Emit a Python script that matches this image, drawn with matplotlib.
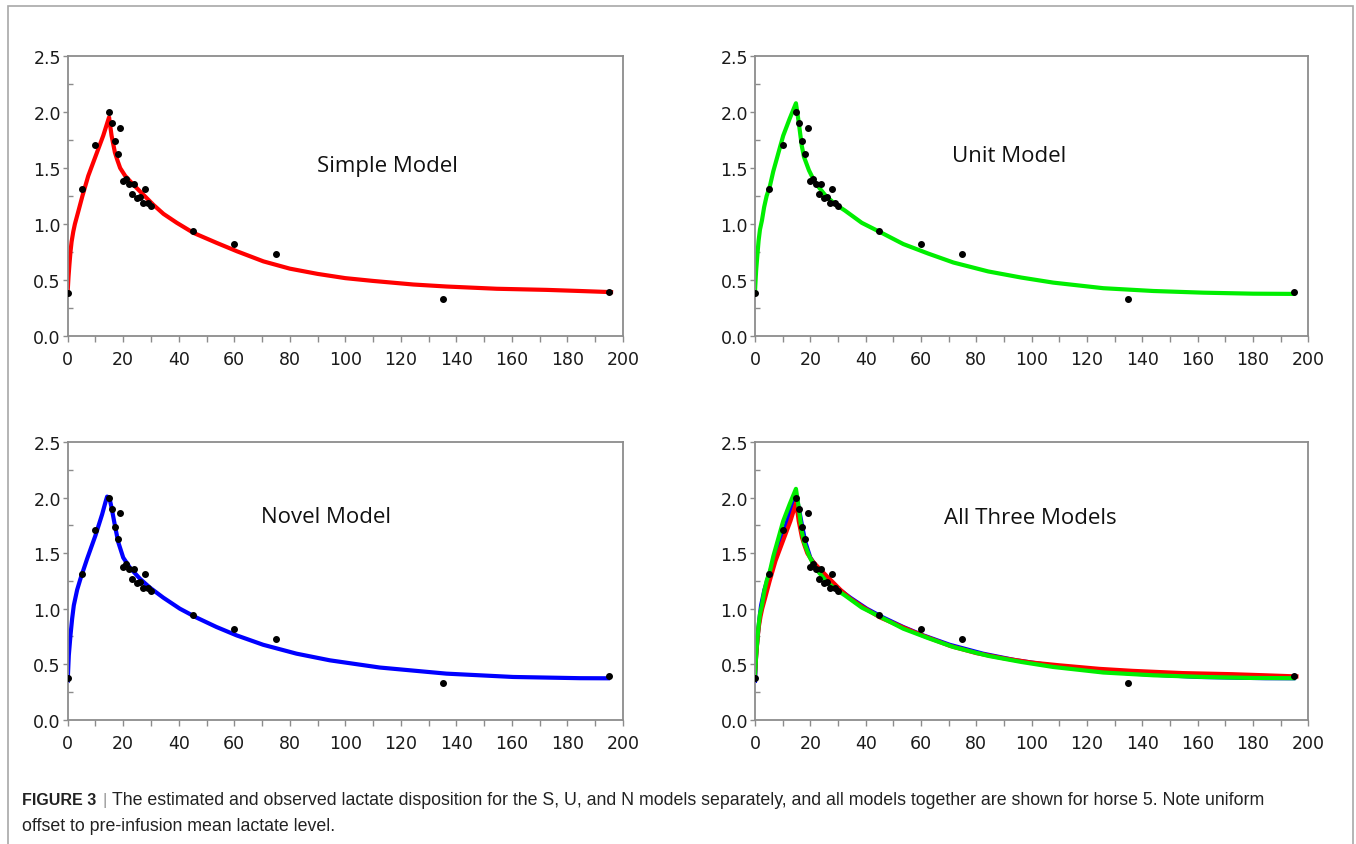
import matplotlib
matplotlib.use("Agg")
import matplotlib.pyplot as plt
from matplotlib.patches import Rectangle
from matplotlib.ticker import MultipleLocator, FormatStrFormatter

# observed lactate (horse 5)
obs_t = [0, 5, 10, 15, 16, 17, 18, 19, 20, 21, 22, 23, 24, 25, 26, 27, 28, 29, 30,
         45, 60, 75, 135, 195]
obs_y = [0.38, 1.31, 1.71, 2.00, 1.90, 1.74, 1.63, 1.86, 1.38, 1.40, 1.36, 1.27, 1.36,
         1.23, 1.24, 1.19, 1.31, 1.19, 1.16, 0.94, 0.82, 0.73, 0.33, 0.39]

# simple model (red)
simple_t = [0, 0.3, 0.6, 1.0, 1.4, 2.0, 2.6, 3.8, 5.3, 7.4, 10.4, 12.8, 14.9, 15.8,
            17.0, 17.9, 18.9, 20.7, 23.7, 27.3, 30.9, 34.5, 39.3, 45.3, 53.7, 61,
            70.5, 80, 90, 100, 110, 124.5, 136.5, 154.5, 172.5, 184.5, 195.7]
simple_y = [0.40, 0.53, 0.63, 0.75, 0.84, 0.93, 1.00, 1.11, 1.25, 1.43, 1.63, 1.79,
            1.955, 1.79, 1.64, 1.57, 1.50, 1.43, 1.35, 1.26, 1.17, 1.09, 1.01, 0.92,
            0.83, 0.755, 0.665, 0.60, 0.553, 0.515, 0.49, 0.458, 0.44, 0.42, 0.41,
            0.40, 0.39]

# unit model (green)
unit_t = [0, 0.4, 0.85, 1.3, 1.8, 2.5, 3.3, 4.2, 5.4, 6.6, 8.4, 10.2, 12.5, 14.8,
          15.8, 16.9, 17.7, 19.5, 21.7, 25.3, 28.8, 32.5, 38.6, 45.8, 53.6, 62.6,
          71.7, 84.3, 96.3, 107.8, 125.9, 144, 162, 180, 194.6]
unit_y = [0.40, 0.58, 0.72, 0.85, 0.95, 1.03, 1.15, 1.25, 1.34, 1.47, 1.63, 1.79,
          1.94, 2.08, 1.91, 1.70, 1.60, 1.48, 1.37, 1.26, 1.18, 1.12, 1.01, 0.92,
          0.82, 0.735, 0.655, 0.575, 0.52, 0.475, 0.425, 0.40, 0.385, 0.376, 0.374]

# novel model (blue)
novel_t = [0, 0.4, 1.0, 1.6, 2.2, 3.4, 4.6, 7.0, 10.0, 12.4, 13.6, 14.2, 15.0, 15.8,
           17.0, 18.2, 20.0, 22.4, 26.0, 29.6, 34.4, 40.4, 46.4, 53.6, 60.8, 70.4,
           82.4, 94.4, 112.4, 136.4, 160.4, 184.4, 194.6]
novel_y = [0.35, 0.58, 0.76, 0.91, 1.03, 1.17, 1.27, 1.45, 1.66, 1.85, 1.96, 2.01,
           2.00, 1.91, 1.75, 1.60, 1.46, 1.37, 1.27, 1.19, 1.10, 1.00, 0.92, 0.835,
           0.76, 0.675, 0.595, 0.535, 0.47, 0.415, 0.385, 0.374, 0.373]

titles = ["Simple Model", "Unit Model", "Novel Model", "All Three Models"]
title_pos = [(115, 1.52), (92, 1.61), (93, 1.83), (99.5, 1.82)]

RED = "#ff0000"
GREEN = "#00ee00"
BLUE = "#0000ff"
GRAY = "#8c8c8c"

W, H = 1356, 845
fig = plt.figure(figsize=(W / 100, H / 100), dpi=100)

# outer frame
fig.patches.append(Rectangle((8 / W, -0.01), 1345 / W, 1 - 6.5 / H + 0.01,
                             transform=fig.transFigure, fill=False,
                             edgecolor="#a8a8a8", linewidth=1.2))

boxes = [
    (67.7, 57.3, 555.3, 279.4),
    (755.0, 57.3, 553.3, 279.4),
    (67.7, 443.2, 555.3, 277.5),
    (755.0, 443.2, 553.3, 277.5),
]

axes = []
for (x0, y0, w, h) in boxes:
    ax = fig.add_axes([x0 / W, 1 - (y0 + h) / H, w / W, h / H])
    ax.set_xlim(0, 200)
    ax.set_ylim(0, 2.5)
    ax.xaxis.set_major_locator(MultipleLocator(20))
    ax.xaxis.set_minor_locator(MultipleLocator(10))
    ax.yaxis.set_major_locator(MultipleLocator(0.5))
    ax.yaxis.set_minor_locator(MultipleLocator(0.25))
    ax.yaxis.set_major_formatter(FormatStrFormatter("%.1f"))
    for s in ax.spines.values():
        s.set_color(GRAY)
        s.set_linewidth(1.3)
    ax.tick_params(axis="x", which="both", direction="out", length=4, width=1,
                   color=GRAY, labelsize=12.5, pad=6, labelcolor="#1a1a1a")
    ax.tick_params(axis="y", which="major", direction="out", length=3.5, width=1,
                   color=GRAY, labelsize=12.5, pad=1.5, labelcolor="#1a1a1a")
    ax.tick_params(axis="y", which="minor", direction="in", length=3.5, width=1,
                   color=GRAY)
    axes.append(ax)

lw = 3.0
axes[0].plot(simple_t, simple_y, color=RED, lw=lw, solid_joinstyle="round")
axes[1].plot(unit_t, unit_y, color=GREEN, lw=lw, solid_joinstyle="round")
axes[2].plot(novel_t, novel_y, color=BLUE, lw=lw, solid_joinstyle="round")
axes[3].plot(novel_t, novel_y, color=BLUE, lw=lw, solid_joinstyle="round")
axes[3].plot(simple_t, simple_y, color=RED, lw=lw, solid_joinstyle="round")
axes[3].plot(unit_t, unit_y, color=GREEN, lw=lw, solid_joinstyle="round")

for ax, title, (tx, ty) in zip(axes, titles, title_pos):
    ax.plot(obs_t, obs_y, "o", color="black", markersize=4, zorder=5)
    ax.text(tx, ty, title, ha="center", va="center", fontsize=16,
            family="Open Sans", color="#111111")

# caption
fig.text(22 / W, 1 - 801 / H, "FIGURE 3", fontsize=11.5, fontweight="bold",
         family="Liberation Sans", va="center", color="#222222")
fig.text(102 / W, 1 - 801 / H, "|", fontsize=12, family="Liberation Sans",
         va="center", color="#999999")
fig.text(112 / W, 1 - 801 / H,
         "The estimated and observed lactate disposition for the S, U, and N models "
         "separately, and all models together are shown for horse 5. Note uniform",
         fontsize=12.8, family="Liberation Sans", va="center", color="#222222")
fig.text(22 / W, 1 - 827 / H, "offset to pre-infusion mean lactate level.",
         fontsize=12.8, family="Liberation Sans", va="center", color="#222222")

fig.savefig("out.png", dpi=100)
